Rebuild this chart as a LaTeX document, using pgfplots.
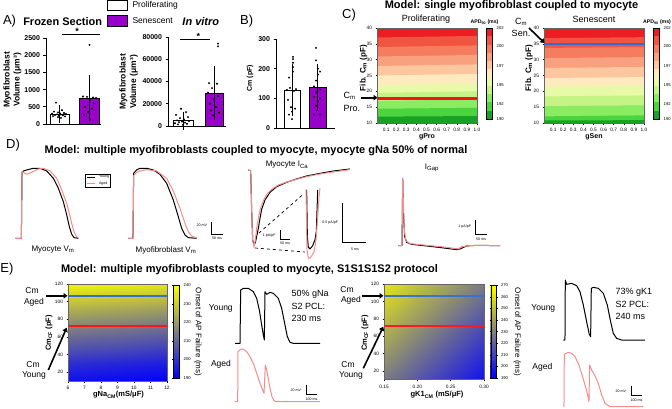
\documentclass[border=0pt]{standalone}
\usepackage{fontspec}
\setmainfont{Liberation Sans}
\usepackage{pgfplots}
\pgfplotsset{compat=1.18}
\usetikzlibrary{arrows.meta}
\newcommand\fs[1]{\fontsize{#1}{#1}\selectfont}
\definecolor{purp}{RGB}{153,0,204}
\definecolor{pk}{RGB}{248,140,140}
\definecolor{cbA}{RGB}{236,30,36}
\definecolor{cbB}{RGB}{242,84,66}
\definecolor{cbC}{RGB}{246,124,96}
\definecolor{cbD}{RGB}{249,160,126}
\definecolor{cbE}{RGB}{252,198,158}
\definecolor{cbF}{RGB}{254,234,190}
\definecolor{cbG}{RGB}{232,249,168}
\definecolor{cbH}{RGB}{196,244,134}
\definecolor{cbI}{RGB}{138,236,96}
\definecolor{cbJ}{RGB}{74,212,62}
\definecolor{cbK}{RGB}{26,160,38}
\definecolor{redA}{RGB}{255,18,18}
\definecolor{redE}{RGB}{254,16,20}
\definecolor{redB}{RGB}{253,22,24}
\definecolor{redC}{RGB}{251,26,30}
\definecolor{blueA}{RGB}{48,108,212}
\definecolor{blueB}{RGB}{52,112,208}
\definecolor{blueC}{RGB}{56,116,204}
\pgfplotsset{
  barax/.style={scale only axis, anchor=south west, axis x line*=bottom, axis y line*=left, xtick=\empty,
    tick align=outside, major tick length=2.5pt, axis line style={line width=0.7pt}, tick style={line width=0.7pt, black},
    enlargelimits=false, clip=false, yticklabel style={font=\bfseries\fs{7}}, scaled y ticks=false,
    /pgf/number format/assume math mode=true, /pgf/number format/set thousands separator={}},
  tr/.style={anchor=south west, axis lines=none, ticks=none, enlargelimits=false, clip=false},
  blk/.style={black, line width=1pt, line join=round},
  pnk/.style={pk, line width=1pt, line join=round},
  hm/.style={scale only axis, anchor=south west, enlargelimits=false, axis on top, tick align=outside, tick pos=left,
    major tick length=1.5pt, tick style={black, line width=0.4pt}, axis line style={draw=black!60, line width=0.5pt},
    tick label style={font=\fs{4.8}}, /pgf/number format/assume math mode=true, colorbar shift/.style={}},
  cbax/.style={scale only axis, anchor=south west, enlargelimits=false, axis on top, xtick=\empty, ytick pos=right, yticklabel pos=right,
    tick align=outside, major tick length=1.2pt, tick style={black, line width=0.4pt}, axis line style={draw=black, line width=0.4pt},
    tick label style={font=\fs{4.2}}, xmin=0, xmax=1, ymin=190, ymax=202,
    ytick={190,192,194.5,197,199.6,202}, yticklabels={190,192,195,197,200,202}},
  band/.style={draw=none, fill=#1, forget plot},
  mline/.style={draw=#1, fill=#1, line width=0.2pt, forget plot},
}
\begin{document}
\begin{tikzpicture}[x=1pt,y=1pt]
\useasboundingbox (0,0) rectangle (672,408);

% ================= Panel A =================
\begin{axis}[barax, at={(46pt,284pt)}, width=55pt, height=86pt, xmin=0, xmax=55, ymin=0, ymax=2500, ytick={0,500,1000,1500,2000,2500}]
\addplot[ybar, bar width=19, bar shift=0pt, fill=white, draw=black, line width=0.7pt,
  error bars/.cd, y dir=both, y explicit, error mark options={mark size=5pt, line width=0.6pt, black}] coordinates {(13.5,280) +- (0,115)};
\addplot[ybar, bar width=20, bar shift=0pt, fill=purp, draw=black, line width=0.7pt,
  error bars/.cd, y dir=both, y explicit, error mark options={mark size=5pt, line width=0.6pt, black}] coordinates {(43,760) +- (0,515)};
\addplot[only marks, mark=*, mark size=0.75pt, black] coordinates {
 (10,620)(16,400)(8,360)(12,340)(18,320)(14,310)(6,300)(20,290)(11,280)(15,270)(9,260)(17,250)(13,240)(7,230)(19,220)(12,200)(15,180)};
\addplot[only marks, mark=*, mark size=0.75pt, black] coordinates {
 (43.5,2300)(37,800)(41,790)(47,770)(50,760)(36,740)(44,700)(48,600)(39,500)(46,450)(42,350)(38,260)(44,120)};
\end{axis}
\begin{axis}[barax, at={(168pt,282pt)}, width=58pt, height=89pt, xmin=0, xmax=58, ymin=0, ymax=80000, ytick={0,20000,40000,60000,80000}]
\addplot[ybar, bar width=20, bar shift=0pt, fill=white, draw=black, line width=0.7pt,
  error bars/.cd, y dir=both, y explicit, error mark options={mark size=5pt, line width=0.6pt, black}] coordinates {(15,4800) +- (0,3600)};
\addplot[ybar, bar width=18, bar shift=0pt, fill=purp, draw=black, line width=0.7pt,
  error bars/.cd, y dir=both, y explicit, error mark options={mark size=5pt, line width=0.6pt, black}] coordinates {(46,29400) +- (0,19800)};
\addplot[only marks, mark=*, mark size=0.75pt, black] coordinates {
 (13,15500)(18,12500)(8,10000)(20,8000)(12,7000)(16,6000)(9,5000)(21,4500)(14,4000)(11,3500)(17,3000)(7,2500)(19,2000)(10,1500)(15,1000)};
\addplot[only marks, mark=*, mark size=0.75pt, black] coordinates {
 (50,74000)(50,71500)(41,38500)(49,38000)(44,34000)(40,30000)(50,27000)(46,24000)(42,20000)(48,17000)(43,14000)(51,12000)(45,9500)};
\end{axis}
\node[font=\fs{13}] at (9.5,387) {A)};
\node[font=\bfseries\fs{11}] at (62.7,386.7) {Frozen Section};
\node[font=\bfseries\itshape\fs{11}] at (200.8,386.3) {In vitro};
\node[rotate=90,font=\bfseries\fs{8.5}] at (7.5,328) {Myofibroblast};
\node[rotate=90,font=\bfseries\fs{8.5}] at (17.5,328) {Volume (μm³)};
\node[rotate=90,font=\bfseries\fs{8.5}] at (123.5,326) {Myofibroblast};
\node[rotate=90,font=\bfseries\fs{8.5}] at (134,326) {Volume (μm³)};
\draw[line width=1pt] (62,373) -- (100,373);
\node[font=\bfseries\fs{9}] at (77,376.5) {*};
\draw[line width=1pt] (180,368) -- (210,368);
\node[font=\bfseries\fs{9}] at (198.3,372) {*};
\draw[fill=white, line width=0.7pt] (107.3,397.3) rectangle (127.7,407.6);
\node[anchor=west, font=\fs{8.5}] at (129,402.3) {Proliferating};
\draw[fill=purp, line width=0.7pt] (107.3,381.3) rectangle (127.7,393);
\node[anchor=west, font=\fs{8.5}] at (129,387.5) {Senescent};

% ================= Panel B =================
\begin{axis}[barax, at={(276pt,280pt)}, width=59pt, height=89pt, xmin=0, xmax=59, ymin=0, ymax=300, ytick={0,100,200,300}]
\addplot[ybar, bar width=16, bar shift=0pt, fill=white, draw=black, line width=0.7pt,
  error bars/.cd, y dir=both, y explicit, error mark options={mark size=5pt, line width=0.6pt, black}] coordinates {(16,127) +- (0,71)};
\addplot[ybar, bar width=17, bar shift=0pt, fill=purp, draw=black, line width=0.7pt,
  error bars/.cd, y dir=both, y explicit, error mark options={mark size=5pt, line width=0.6pt, black}] coordinates {(41.5,137) +- (0,63)};
\addplot[only marks, mark=*, mark size=0.75pt, black] coordinates {
 (17,240)(17,232)(17,220)(17,205)(17,190)(13,170)(14,135)(20,131)(11,128)(18,125)(12,95)(15,70)(19,65)(16,55)(13,45)(16,30)};
\addplot[only marks, mark=*, mark size=0.75pt, black] coordinates {
 (40,270)(40,228)(42,200)(44,190)(42,180)(40,160)(38,140)(44,130)(40,120)(38,105)(44,100)(42,90)(40,75)(38,45)(44,45)};
\end{axis}
\node[font=\fs{13}] at (246.7,387.2) {B)};
\node[rotate=90, font=\bfseries\fs{7}] at (250,330) {Cm (pF)};

% ================= Panel C =================
\begin{axis}[hm, at={(377pt,285pt)}, width=100pt, height=95pt, xmin=0.01, xmax=1, ymin=10, ymax=40,
  xtick={0.1,0.2,0.3,0.4,0.5,0.6,0.7,0.8,0.9,1.0}, xticklabels={0.1,0.2,0.3,0.4,0.5,0.6,0.7,0.8,0.9,1.0},
  ytick={10,15,20,25,30,35,40}]
\addplot[band=cbA] coordinates {(0.01,10)(1,10)(1,40)(0.01,40)};
\addplot[band=cbB] coordinates {(0.01,10)(1,10)(1,37.5)(0.01,37.0)};
\addplot[band=cbC] coordinates {(0.01,10)(1,10)(1,34.5)(0.01,34.0)};
\addplot[band=cbD] coordinates {(0.01,10)(1,10)(1,31.5)(0.01,31.0)};
\addplot[band=cbE] coordinates {(0.01,10)(1,10)(1,28.5)(0.01,28.0)};
\addplot[band=cbF] coordinates {(0.01,10)(1,10)(1,25.5)(0.01,25.0)};
\addplot[band=cbG] coordinates {(0.01,10)(1,10)(1,22.5)(0.01,22.0)};
\addplot[band=cbH] coordinates {(0.01,10)(1,10)(1,20.0)(0.01,19.5)};
\addplot[band=cbI] coordinates {(0.01,10)(1,10)(1,17.4)(0.01,17.0)};
\addplot[band=cbJ] coordinates {(0.01,10)(1,10)(1,14.8)(0.01,14.5)};
\addplot[band=cbK] coordinates {(0.01,10)(1,10)(1,12.2)(0.01,12.0)};
\addplot[mline=redA] coordinates {(0.01,17.7)(1,17.7)(1,18.3)(0.01,18.3)};
\addplot[mline=redE] coordinates {(0.01,17.7)(1,17.7)(1,18.3)(0.01,18.3)};
\end{axis}
\begin{axis}[cbax, at={(486pt,289pt)}, width=6pt, height=91pt]
\addplot[band=cbK] coordinates {(0,190)(1,190)(1,191.09)(0,191.09)};
\addplot[band=cbJ] coordinates {(0,191.09)(1,191.09)(1,192.18)(0,192.18)};
\addplot[band=cbI] coordinates {(0,192.18)(1,192.18)(1,193.27)(0,193.27)};
\addplot[band=cbH] coordinates {(0,193.27)(1,193.27)(1,194.36)(0,194.36)};
\addplot[band=cbG] coordinates {(0,194.36)(1,194.36)(1,195.45)(0,195.45)};
\addplot[band=cbF] coordinates {(0,195.45)(1,195.45)(1,196.55)(0,196.55)};
\addplot[band=cbE] coordinates {(0,196.55)(1,196.55)(1,197.64)(0,197.64)};
\addplot[band=cbD] coordinates {(0,197.64)(1,197.64)(1,198.73)(0,198.73)};
\addplot[band=cbC] coordinates {(0,198.73)(1,198.73)(1,199.82)(0,199.82)};
\addplot[band=cbB] coordinates {(0,199.82)(1,199.82)(1,200.91)(0,200.91)};
\addplot[band=cbA] coordinates {(0,200.91)(1,200.91)(1,202)(0,202)};
\end{axis}
\begin{axis}[hm, at={(544pt,285pt)}, width=100pt, height=95pt, xmin=0.01, xmax=1, ymin=10, ymax=40,
  xtick={0.1,0.2,0.3,0.4,0.5,0.6,0.7,0.8,0.9,1.0}, xticklabels={0.1,0.2,0.3,0.4,0.5,0.6,0.7,0.8,0.9,1.0},
  ytick={10,15,20,25,30,35,40}]
\addplot[band=cbA] coordinates {(0.01,10)(1,10)(1,40)(0.01,40)};
\addplot[band=cbB] coordinates {(0.01,10)(1,10)(1,37.1)(0.01,36.8)};
\addplot[band=cbC] coordinates {(0.01,10)(1,10)(1,34.0)(0.01,33.7)};
\addplot[band=cbD] coordinates {(0.01,10)(1,10)(1,30.8)(0.01,30.5)};
\addplot[band=cbE] coordinates {(0.01,10)(1,10)(1,27.7)(0.01,27.4)};
\addplot[band=cbF] coordinates {(0.01,10)(1,10)(1,24.5)(0.01,24.2)};
\addplot[band=cbG] coordinates {(0.01,10)(1,10)(1,21.9)(0.01,21.6)};
\addplot[band=cbH] coordinates {(0.01,10)(1,10)(1,18.7)(0.01,18.4)};
\addplot[band=cbI] coordinates {(0.01,10)(1,10)(1,15.6)(0.01,15.3)};
\addplot[band=cbJ] coordinates {(0.01,10)(1,10)(1,12.4)(0.01,12.1)};
\addplot[band=cbK] coordinates {(0.01,10)(1,10)(1,10.9)(0.01,10.8)};
\addplot[mline=blueA] coordinates {(0.01,34.85)(1,34.85)(1,35.15)(0.01,35.15)};
\end{axis}
\begin{axis}[cbax, at={(653pt,289pt)}, width=6pt, height=91pt]
\addplot[band=cbK] coordinates {(0,190)(1,190)(1,191.09)(0,191.09)};
\addplot[band=cbJ] coordinates {(0,191.09)(1,191.09)(1,192.18)(0,192.18)};
\addplot[band=cbI] coordinates {(0,192.18)(1,192.18)(1,193.27)(0,193.27)};
\addplot[band=cbH] coordinates {(0,193.27)(1,193.27)(1,194.36)(0,194.36)};
\addplot[band=cbG] coordinates {(0,194.36)(1,194.36)(1,195.45)(0,195.45)};
\addplot[band=cbF] coordinates {(0,195.45)(1,195.45)(1,196.55)(0,196.55)};
\addplot[band=cbE] coordinates {(0,196.55)(1,196.55)(1,197.64)(0,197.64)};
\addplot[band=cbD] coordinates {(0,197.64)(1,197.64)(1,198.73)(0,198.73)};
\addplot[band=cbC] coordinates {(0,198.73)(1,198.73)(1,199.82)(0,199.82)};
\addplot[band=cbB] coordinates {(0,199.82)(1,199.82)(1,200.91)(0,200.91)};
\addplot[band=cbA] coordinates {(0,200.91)(1,200.91)(1,202)(0,202)};
\end{axis}
\node[font=\fs{13}] at (349,393) {C)};
\node[font=\bfseries\fs{11}] at (511.5,402) {Model: single myofibroblast coupled to myocyte};
\node[font=\fs{9}] at (426,389) {Proliferating};
\node[font=\fs{9}] at (594,389) {Senescent};
\node[font=\bfseries\fs{5.2}] at (484.5,385.7) {APD\textsubscript{90} (ms)};
\node[font=\bfseries\fs{5.2}] at (657,385.7) {APD\textsubscript{90} (ms)};
\node[font=\bfseries\fs{7}] at (427,271) {gPro};
\node[font=\bfseries\fs{7}] at (594,271) {gSen};
\node[rotate=90,font=\bfseries\fs{8}] at (363.5,340) {Fib. C\textsubscript{m} (pF)};
\node[rotate=90,font=\bfseries\fs{8}] at (529,340) {Fib. C\textsubscript{m} (pF)};
\node[anchor=west,font=\fs{9}] at (340,312) {C\textsubscript{m}};
\node[anchor=west,font=\fs{9}] at (340,300) {Pro.};
\draw[line width=1.6pt, -{Triangle[length=4pt,width=5.5pt]}] (361,310.3) -- (377.5,310.3);
\node[font=\fs{9}] at (521,386) {C\textsubscript{m}};
\node[font=\fs{9}] at (521,374.5) {Sen.};
\draw[line width=1.6pt, -{Triangle[length=4pt,width=5.5pt]}] (529,380) -- (544.5,365);

% ================= Panel D =================
\begin{axis}[tr, at={(14.7pt,166.7pt)}, x=0.2pt, y=0.6pt, xmin=-35, xmax=290, ymin=-90, ymax=35]
\addplot[blk] coordinates {(-33.3,-85)(-1.7,-85)(1.7,25)(8.3,27.2)(25,28.9)(58.3,31.7)(91.7,31.7)(125,27.2)(158.3,15)(183.3,-1.7)(208.3,-23.9)(225,-46.1)(238.3,-65.6)(250,-78.3)(261.7,-83.9)(283.3,-85)};
\addplot[pnk] coordinates {(-33.3,-85)(-1.7,-85)(1.7,26.1)(8.3,25)(25,21.7)(50,25)(83.3,30.6)(108.3,31.7)(141.7,27.2)(175,15)(200,-4.4)(225,-26.7)(241.7,-48.9)(258.3,-71.1)(271.7,-81.1)(283.3,-83.9)};
\end{axis}
\begin{axis}[tr, at={(127.3pt,166.7pt)}, x=0.2pt, y=0.6pt, xmin=-30, xmax=320, ymin=-90, ymax=35]
\addplot[blk] coordinates {(-25,-85)(-1.7,-85)(1.7,23.3)(16.7,28.9)(33.3,31.7)(66.7,31.7)(100,28.9)(133.3,21.7)(166.7,6.7)(200,-21.1)(225,-48.9)(241.7,-68.3)(258.3,-79.4)(275,-83.9)(316.7,-85)};
\addplot[pnk] coordinates {(-25,-85)(-1.7,-85)(1.7,19.4)(16.7,25)(33.3,27.2)(66.7,29.4)(116.7,27.2)(166.7,15)(200,-6.1)(233.3,-35)(258.3,-60)(275,-73.9)(291.7,-81.1)(316.7,-84.4)};
\end{axis}
\begin{axis}[tr, at={(248pt,158.7pt)}, x=0.2pt, y=9.33pt, xmin=-10, xmax=570, ymin=-8.5, ymax=0.5]
\addplot[blk] coordinates {(-8.3,0)(3.3,-0.07)(8.3,-4.29)(13.3,-7.5)(20,-8.04)(26.7,-7.79)(33.3,-7.14)(41.7,-6.25)(50,-5.18)(58.3,-4.21)(75,-3.21)(100,-2.39)(133.3,-1.79)(183.3,-1.32)(233.3,-0.96)(283.3,-0.64)(350,-0.36)(416.7,-0.11)(500,0.11)};
\addplot[pnk] coordinates {(-8.3,0)(3.3,-0.07)(8.3,-4.29)(13.3,-7.5)(20,-8.29)(26.7,-7.5)(33.3,-6.25)(41.7,-5.18)(50,-4.29)(66.7,-3.29)(83.3,-2.61)(108.3,-2.07)(141.7,-1.61)(183.3,-1.29)(233.3,-1.0)(283.3,-0.71)(350,-0.43)(416.7,-0.21)(500,0.04)};
\end{axis}
\begin{axis}[tr, at={(306pt,148.1pt)}, x=4.67pt, y=78.7pt, xmin=0, xmax=3, ymin=-8.32, ymax=-7.4]
\addplot[blk] coordinates {(0.14,-7.43)(0.29,-8.02)(0.5,-8.16)(0.86,-8.18)(1.43,-8.14)(1.93,-8.06)(2.21,-7.96)(2.36,-7.69)(2.5,-7.43)};
\addplot[pnk] coordinates {(0,-7.42)(0.21,-8.19)(0.5,-8.3)(1,-8.29)(1.71,-8.22)(2.14,-8.07)(2.5,-7.77)(2.79,-7.52)(3,-7.41)};
\end{axis}
\begin{axis}[tr, at={(397.2pt,155.2pt)}, x=0.22pt, y=14.33pt, xmin=-25, xmax=450, ymin=-0.5, ymax=5]
\addplot[blk] coordinates {(-19.7,0)(-3,0)(0,4.7)(3,2.37)(9.1,0.63)(18.2,0.23)(40.9,0.09)(124.2,-0.05)(184.8,-0.16)(245.5,-0.28)(260.6,-0.23)(290.9,-0.02)(336.3,0.02)(442.4,0)};
\addplot[pnk] coordinates {(-19.7,0)(-3,0)(0,4.7)(3,3.07)(7.6,0.98)(15.2,0.33)(33.3,0.14)(124.2,0)(184.8,-0.09)(253,-0.23)(268.2,-0.07)(306,0)(442.4,0)};
\end{axis}
\node[font=\fs{13}] at (13,263) {D)};
\node[font=\bfseries\fs{11}] at (256,257) {Model: multiple myofibroblasts coupled to myocyte, myocyte gNa 50\% of normal};
\node[font=\fs{8}] at (53,158) {Myocyte V\textsubscript{m}};
\node[font=\fs{8}] at (166,158) {Myofibroblast V\textsubscript{m}};
\node[font=\fs{8}] at (287,243) {Myocyte I\textsubscript{Ca}};
\node[font=\fs{8}] at (432,240) {I\textsubscript{Gap}};
\draw[line width=0.7pt] (211.7,185.7) -- (211.7,173.7) -- (222.7,173.7);
\node[anchor=east,font=\fs{3.6}] at (210.5,182.5) {20 mV};
\node[font=\fs{3.6}] at (217,170) {50 ms};
\draw[line width=0.7pt] (280,178) -- (280,168.7) -- (290,168.7);
\node[anchor=east,font=\fs{3.6}] at (279,172) {1 pA/pF};
\node[font=\fs{3.6}] at (285,164.7) {50 ms};
\draw[line width=0.7pt] (342.7,204.7) -- (342.7,165.3) -- (366,165.3);
\node[anchor=east,font=\fs{3.6}] at (341.5,185.3) {0.5 pA/pF};
\node[font=\fs{3.6}] at (355,158.7) {5 ms};
\draw[line width=0.7pt] (475.7,188) -- (475.7,173.7) -- (486.7,173.7);
\node[anchor=east,font=\fs{3.6}] at (474.5,181.3) {1 pA/pF};
\node[font=\fs{3.6}] at (481,169) {50 ms};
\draw[dashed, line width=0.7pt] (259,175) -- (303.5,214);
\draw[dashed, line width=0.7pt] (255,160) -- (305,156);
\draw[fill=white, line width=0.3pt] (85,221) rectangle (110,234);
\draw[black, line width=1pt] (86.5,231) -- (95,231);
\draw[pk, line width=1pt] (86.5,224.5) -- (95,224.5);
\node[anchor=west,font=\fs{3.6}] at (95.5,231) {Young};
\node[anchor=west,font=\fs{3.6}] at (95.5,224.5) {Aged};

% ================= Panel E =================
\begin{axis}[hm, at={(68pt,27pt)}, width=99pt, height=97pt, view={0}{90}, xmin=6, xmax=12, ymin=10, ymax=120,
  xtick={6,7,8,9,10,11,12}, ytick={20,40,60,80,100,120}, ztick=\empty,
  colormap={by}{rgb255=(0,0,255) rgb255=(255,255,0)}, point meta min=190, point meta max=240,
  colorbar, colorbar style={scale only axis, at={(parent axis.north east)}, anchor=north west, xshift=6.3pt, yshift=-1.3pt,
    width=5.7pt, height=92.7pt, ytick={190,200,210,220,230,240}, yticklabel style={font=\fs{4.2}}, tick align=outside,
    major tick length=1.2pt, axis line style={draw=black, line width=0.4pt}, /pgf/number format/assume math mode=true}]
\addplot3[surf, shader=interp, mesh/cols=4] coordinates {
 (6,10,193)(8,10,192)(10,10,191)(12,10,190)
 (6,20,196)(8,20,195)(10,20,194)(12,20,193)
 (6,30,199)(8,30,198)(10,30,197)(12,30,196)
 (6,40,203)(8,40,202)(10,40,201)(12,40,199.5)
 (6,50,207)(8,50,206)(10,50,205)(12,50,203.5)
 (6,60,211)(8,60,210)(10,60,209)(12,60,207.5)
 (6,70,215)(8,70,214)(10,70,213)(12,70,211.5)
 (6,80,219.5)(8,80,218.5)(10,80,217.5)(12,80,216)
 (6,90,224)(8,90,223)(10,90,222)(12,90,220.5)
 (6,100,228.5)(8,100,227.5)(10,100,226.5)(12,100,225)
 (6,110,233)(8,110,232)(10,110,231)(12,110,229.5)
 (6,120,238)(8,120,237)(10,120,236)(12,120,234.5)};
\addplot[mline=blueB] coordinates {(6,106.0)(12,106.0)(12,107.0)(6,107.0)};
\addplot[mline=redB] coordinates {(6,71.7)(12,71.7)(12,73.3)(6,73.3)};
\end{axis}
\begin{axis}[hm, at={(384pt,28.3pt)}, width=100pt, height=95.7pt, view={0}{90}, xmin=0.15, xmax=0.30, ymin=10, ymax=120,
  xtick={0.15,0.20,0.25,0.30}, xticklabels={0.15,0.20,0.25,0.30}, ytick={20,40,60,80,100,120}, ztick=\empty,
  colormap={by}{rgb255=(0,0,255) rgb255=(255,255,0)}, point meta min=190, point meta max=270,
  colorbar, colorbar style={scale only axis, at={(parent axis.north east)}, anchor=north west, xshift=6.7pt, yshift=-1.3pt,
    width=5.6pt, height=92.7pt, ytick={190,200,210,220,230,240,250,260,270}, yticklabel style={font=\fs{4.2}}, tick align=outside,
    major tick length=1.2pt, axis line style={draw=black, line width=0.4pt}, /pgf/number format/assume math mode=true}]
\addplot3[surf, shader=interp, mesh/cols=4] coordinates {
 (0.15,10,228.5)(0.20,10,217.3)(0.25,10,206.2)(0.30,10,195)
 (0.15,46.67,239.7)(0.20,46.67,228.5)(0.25,46.67,217.3)(0.30,46.67,206.2)
 (0.15,83.33,250.8)(0.20,83.33,239.7)(0.25,83.33,228.5)(0.30,83.33,217.3)
 (0.15,120,262)(0.20,120,250.8)(0.25,120,239.7)(0.30,120,228.5)};
\addplot[mline=blueC] coordinates {(0.15,106.0)(0.30,106.0)(0.30,107.0)(0.15,107.0)};
\addplot[mline=redC] coordinates {(0.15,71.7)(0.30,71.7)(0.30,73.3)(0.15,73.3)};
\end{axis}
\begin{axis}[tr, at={(235pt,62.4pt)}, x=0.1pt, y=0.45pt, xmin=-50, xmax=800, ymin=-90, ymax=45]
\addplot[blk] coordinates {(-50,-85)(0,-85)(6.7,33.5)(33.3,37.2)(83.3,37.2)(133.3,29.8)(166.7,15)(193.3,-10.9)(216.7,-44.3)(233.3,-66.5)(243.3,-77.6)(250,29.8)(266.7,23.9)(300,28.3)(333.3,26.1)(383.3,15)(416.7,-7.2)(450,-44.3)(473.3,-70.2)(500,-82.8)(533.3,-85)(800,-85)};
\end{axis}
\begin{axis}[tr, at={(235pt,4.1pt)}, x=0.1pt, y=0.45pt, xmin=-30, xmax=820, ymin=-90, ymax=40]
\addplot[pnk] coordinates {(-30,-85)(-3.3,-85)(0,26.1)(13.3,28.3)(26.7,31.3)(53.3,32)(86.7,26.1)(120,15)(153.3,0.2)(186.7,-22)(220,-44.3)(246.7,-59.1)(260,-66.5)(273.3,-3.5)(286.7,-14.6)(303.3,-34.6)(320,-55.4)(340,-73.9)(360,-82.8)(386.7,-85)(820,-85)};
\end{axis}
\begin{axis}[tr, at={(563.3pt,65.75pt)}, x=0.1pt, y=0.45pt, xmin=-20, xmax=800, ymin=-90, ymax=50]
\addplot[blk] coordinates {(-20,-85)(-3.3,-85)(0,48.3)(13.3,38.7)(63.3,40.9)(113.3,35.7)(146.7,22.4)(180,-7.2)(213.3,-44.3)(240,-72.4)(253.3,-77.6)(260,29.8)(280,32)(330,29.8)(380,18.7)(420,-7.2)(453.3,-44.3)(480,-70.2)(513.3,-81.3)(563.3,-85)(796.7,-85)};
\end{axis}
\begin{axis}[tr, at={(563.3pt,0pt)}, x=0.1pt, y=0.45pt, xmin=-10, xmax=790, ymin=-88, ymax=40]
\addplot[pnk] coordinates {(-10,-85)(-3.3,-85)(0,31.3)(16.7,33.5)(40,35.7)(73.3,33.5)(106.7,26.1)(140,11.3)(173.3,-10.9)(206.7,-36.9)(230,-55.4)(246.7,-73.9)(253.3,7.6)(273.3,-3.5)(306.7,-16.1)(340,-33.1)(373.3,-59.1)(406.7,-77.6)(456.7,-85)(790,-85)};
\end{axis}
\node[font=\fs{13}] at (7,139) {E)};
\node[font=\bfseries\fs{11}] at (249.5,138) {Model: multiple myofibroblasts coupled to myocyte, S1S1S1S2 protocol};
\node[font=\bfseries\fs{7.5}] at (118.5,13) {gNa\textsubscript{CM}(mS/μF)};
\node[font=\bfseries\fs{7.5}] at (437,13) {gK1\textsubscript{CM} (mS/μF)};
\node[rotate=90,font=\bfseries\fs{7.5}] at (49,75) {Cm\textsubscript{CF} (pF)};
\node[rotate=90,font=\bfseries\fs{7.5}] at (365,75) {Cm\textsubscript{CF} (pF)};
\node[rotate=-90,font=\fs{8}] at (198,76) {Onset of AP Failure (ms)};
\node[rotate=-90,font=\fs{8}] at (517.3,76) {Onset of AP Failure (ms)};
\node[font=\fs{8.5}] at (32,117) {Cm};
\node[font=\fs{8.5}] at (34,106) {Aged};
\draw[line width=1.6pt, -{Triangle[length=4pt,width=5.5pt]}] (46,112.2) -- (67.5,112.2);
\node[font=\fs{8.5}] at (33,43) {Cm};
\node[font=\fs{8.5}] at (34,32.3) {Young};
\draw[line width=1.6pt, -{Triangle[length=4pt,width=5.5pt]}] (48.3,38) -- (66.7,80.3);
\node[font=\fs{8.5}] at (347,118) {Cm};
\node[font=\fs{8.5}] at (351,107.3) {Aged};
\draw[line width=1.6pt, -{Triangle[length=4pt,width=5.5pt]}] (361.7,112.2) -- (383.5,112.2);
\node[font=\fs{8.5}] at (348,43) {Cm};
\node[font=\fs{8.5}] at (351,33) {Young};
\draw[line width=1.6pt, -{Triangle[length=4pt,width=5.5pt]}] (363.3,39.7) -- (383.3,81.3);
\node[font=\fs{8.5}] at (220.8,100) {Young};
\node[font=\fs{8.5}] at (221,44) {Aged};
\node[anchor=west,font=\fs{9}] at (288,114) {50\% gNa};
\node[anchor=west,font=\fs{9}] at (288,102) {S2 PCL:};
\node[anchor=west,font=\fs{9}] at (288,90) {230 ms};
\node[font=\fs{8.5}] at (543.3,100) {Young};
\node[font=\fs{8.5}] at (542.3,41) {Aged};
\node[anchor=west,font=\fs{9}] at (612,116) {73\% gK1};
\node[anchor=west,font=\fs{9}] at (612,104) {S2 PCL:};
\node[anchor=west,font=\fs{9}] at (612,92) {240 ms};
\draw[line width=0.7pt] (306.7,23) -- (306.7,13.7) -- (316.7,13.7);
\node[anchor=east,font=\fs{3.6}] at (304.5,18) {20 mV};
\node[font=\fs{3.6}] at (311.5,8.7) {100 ms};
\draw[line width=0.7pt] (631.7,22.3) -- (631.7,13) -- (641.7,13);
\node[anchor=east,font=\fs{3.6}] at (629.5,16.3) {20 mV};
\node[font=\fs{3.6}] at (636.5,7.3) {100 ms};
\end{tikzpicture}
\end{document}
